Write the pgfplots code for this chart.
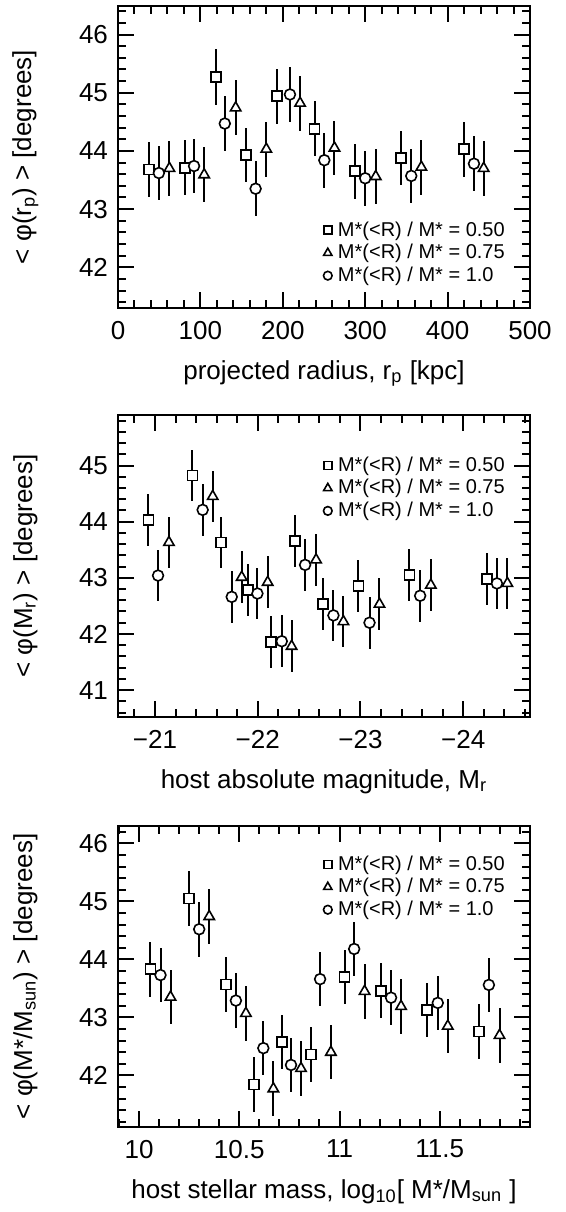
\documentclass[border=0pt]{standalone}
\usepackage{fontspec}
\setmainfont{Liberation Sans}
\usepackage{pgfplots}
\usepackage{pgfplotstable}
\pgfplotsset{compat=1.18}

\pgfplotstableread{
x y e
37.3 43.68 0.47
81.3 43.71 0.47
118.6 45.27 0.48
155.0 43.93 0.47
193.0 44.94 0.47
238.6 44.38 0.47
287.8 43.65 0.47
343.6 43.88 0.47
419.6 44.03 0.47
}\rsq
\pgfplotstableread{
x y e
62.4 43.70 0.47
104.6 43.59 0.47
142.8 44.74 0.47
180.0 44.03 0.47
221.0 44.82 0.47
262.7 44.05 0.47
312.8 43.56 0.47
368.2 43.72 0.47
443.8 43.70 0.47
}\rtr
\pgfplotstableread{
x y e
49.6 43.62 0.47
92.3 43.74 0.47
129.6 44.47 0.47
167.0 43.35 0.47
208.7 44.97 0.47
250.4 43.84 0.47
300.0 43.53 0.47
355.9 43.57 0.47
432.0 43.78 0.47
}\rci

\pgfplotstableread{
x y e
-20.935 44.03 0.46
-21.364 44.82 0.46
-21.643 43.63 0.46
-21.903 42.78 0.46
-22.130 41.86 0.46
-22.364 43.66 0.46
-22.633 42.53 0.46
-22.980 42.85 0.46
-23.477 43.05 0.46
-24.230 42.98 0.46
}\msq
\pgfplotstableread{
x y e
-21.136 43.63 0.46
-21.562 44.45 0.46
-21.844 43.01 0.46
-22.097 42.92 0.46
-22.330 41.78 0.46
-22.568 43.32 0.46
-22.834 42.22 0.46
-23.185 42.53 0.46
-23.685 42.87 0.46
-24.430 42.90 0.46
}\mtr
\pgfplotstableread{
x y e
-21.030 43.04 0.46
-21.464 44.21 0.46
-21.747 42.66 0.46
-21.997 42.72 0.46
-22.234 41.87 0.46
-22.461 43.23 0.46
-22.737 42.33 0.46
-23.088 42.20 0.46
-23.581 42.68 0.46
-24.328 42.90 0.46
}\mci

\pgfplotstableread{
x y e
10.057 43.83 0.47
10.250 45.05 0.47
10.433 43.57 0.47
10.573 41.84 0.47
10.712 42.58 0.47
10.857 42.36 0.47
11.025 43.70 0.47
11.208 43.46 0.47
11.437 43.13 0.47
11.695 42.76 0.47
}\ssq
\pgfplotstableread{
x y e
10.157 43.35 0.47
10.350 44.74 0.47
10.533 43.07 0.47
10.670 41.77 0.47
10.808 42.12 0.47
10.957 42.40 0.47
11.125 43.45 0.47
11.307 43.19 0.47
11.540 42.85 0.47
11.798 42.69 0.47
}\str
\pgfplotstableread{
x y e
10.107 43.73 0.47
10.300 44.52 0.47
10.483 43.29 0.47
10.620 42.47 0.47
10.758 42.18 0.47
10.903 43.66 0.47
11.073 44.18 0.47
11.257 43.34 0.47
11.490 43.25 0.47
11.745 43.56 0.47
}\sci

\pgfplotsset{
  myax/.style={
    scale only axis, width=206pt, height=151pt,
    axis line style={line width=1pt},
    every tick/.style={black, line width=1pt},
    major tick length=8pt, minor tick length=4pt,
    xtick pos=both, ytick pos=both, tick align=inside,
    xticklabel style={font=\fontsize{13}{15}\selectfont, yshift=-3pt},
    yticklabel style={font=\fontsize{13}{15}\selectfont, xshift=-1.5pt},
    /pgf/number format/assume math mode=true,
    every axis y label/.style={at={(axis description cs:-0.225,0.5)}, rotate=90, anchor=center,
      font=\fontsize{13}{15}\selectfont},
    every axis x label/.style={at={(axis description cs:0.5,-0.15)}, anchor=north,
      font=\fontsize{13}{15}\selectfont},
    legend style={draw=none, fill=none, font=\fontsize{10}{12}\selectfont,
      nodes={inner ysep=1.3pt, inner xsep=1.2pt}},
    legend cell align=left,
    legend image code/.code={\draw[#1, every mark/.append style={scale=0.8}] plot coordinates {(0cm,0cm)};
      \path (0.13cm,0cm);},
  },
  sq/.style={only marks, black, mark=square*, mark size=2.5pt, mark options={fill=white, line width=0.8pt},
    error bars/.cd, y dir=both, y explicit, error mark=none, error bar style={line width=1pt, black}},
  tr/.style={only marks, black, mark=triangle*, mark size=3pt, mark options={fill=white, line width=0.8pt},
    error bars/.cd, y dir=both, y explicit, error mark=none, error bar style={line width=1pt, black}},
  ci/.style={only marks, black, mark=*, mark size=2.7pt, mark options={fill=white, line width=0.8pt},
    error bars/.cd, y dir=both, y explicit, error mark=none, error bar style={line width=1pt, black}},
}

\begin{document}
\begin{tikzpicture}
\useasboundingbox (0pt,0pt) rectangle (283pt,-606pt);

\begin{axis}[myax, at={(59pt,-154pt)}, anchor=south west,
  xmin=0, xmax=500, ymin=41.3, ymax=46.49,
  xtick={0,100,200,300,400,500}, ytick={42,43,44,45,46},
  minor xtick={20,40,60,80,120,140,160,180,220,240,260,280,320,340,360,380,420,440,460,480},
  minor ytick={41.4,41.6,41.8,42.2,42.4,42.6,42.8,43.2,43.4,43.6,43.8,44.2,44.4,44.6,44.8,45.2,45.4,45.6,45.8,46.2,46.4},
  xlabel={projected radius, r\textsubscript{p} [kpc]},
  ylabel={< φ(r\textsubscript{p}) > [degrees]},
  legend style={at={(axis description cs:0.96,0.055)}, anchor=south east}]
\addplot+[sq] table[x=x, y=y, y error=e] {\rsq};
\addplot+[tr] table[x=x, y=y, y error=e] {\rtr};
\addplot+[ci] table[x=x, y=y, y error=e] {\rci};
\legend{M*(<R) / M* = 0.50, M*(<R) / M* = 0.75, M*(<R) / M* = 1.0}
\end{axis}

\begin{axis}[myax, at={(59pt,-358.5pt)}, anchor=south west,
  x dir=reverse,
  xmin=-24.65, xmax=-20.64, ymin=40.52, ymax=45.9,
  xtick={-24,-23,-22,-21}, xticklabels={−24,−23,−22,−21},
  minor xtick={-24.6,-24.4,-24.2,-23.8,-23.6,-23.4,-23.2,-22.8,-22.6,-22.4,-22.2,-21.8,-21.6,-21.4,-21.2,-20.8},
  ytick={41,42,43,44,45},
  minor ytick={40.6,40.8,41.2,41.4,41.6,41.8,42.2,42.4,42.6,42.8,43.2,43.4,43.6,43.8,44.2,44.4,44.6,44.8,45.2,45.4,45.6,45.8},
  xlabel={host absolute magnitude, M\textsubscript{r}},
  ylabel={< φ(M\textsubscript{r}) > [degrees]},
  legend style={at={(axis description cs:0.96,0.885)}, anchor=north east}]
\addplot+[sq] table[x=x, y=y, y error=e] {\msq};
\addplot+[tr] table[x=x, y=y, y error=e] {\mtr};
\addplot+[ci] table[x=x, y=y, y error=e] {\mci};
\legend{M*(<R) / M* = 0.50, M*(<R) / M* = 0.75, M*(<R) / M* = 1.0}
\end{axis}

\begin{axis}[myax, at={(59pt,-563.5pt)}, anchor=south west, height=150.5pt,
  xmin=9.895, xmax=11.95, ymin=41.11, ymax=46.30,
  xtick={10,10.5,11,11.5}, ytick={42,43,44,45,46},
  minor xtick={9.9,10.1,10.2,10.3,10.4,10.6,10.7,10.8,10.9,11.1,11.2,11.3,11.4,11.6,11.7,11.8,11.9},
  minor ytick={41.2,41.4,41.6,41.8,42.2,42.4,42.6,42.8,43.2,43.4,43.6,43.8,44.2,44.4,44.6,44.8,45.2,45.4,45.6,45.8,46.2},
  xlabel={host stellar mass, log\textsubscript{10}[ M*/M\textsubscript{sun} ]},
  ylabel={< φ(M*/M\textsubscript{sun}) > [degrees]},
  legend style={at={(axis description cs:0.96,0.925)}, anchor=north east}]
\addplot+[sq] table[x=x, y=y, y error=e] {\ssq};
\addplot+[tr] table[x=x, y=y, y error=e] {\str};
\addplot+[ci] table[x=x, y=y, y error=e] {\sci};
\legend{M*(<R) / M* = 0.50, M*(<R) / M* = 0.75, M*(<R) / M* = 1.0}
\end{axis}
\end{tikzpicture}
\end{document}
